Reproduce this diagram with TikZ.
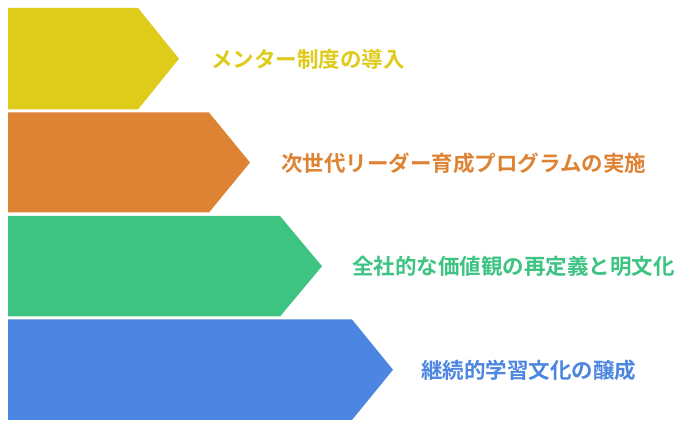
\documentclass[tikz,border=0pt]{standalone}
\usepackage{fontspec}
\newfontfamily\jpfont{Noto Sans CJK JP}[BoldFont={* Bold}]
\definecolor{cA}{HTML}{DFCB1A}
\definecolor{cB}{HTML}{DE8333}
\definecolor{cC}{HTML}{3DC482}
\definecolor{cD}{HTML}{4C86E0}
\tikzset{
  arrowshape/.style={fill=#1, draw=none},
  lbl/.style={anchor=west, inner sep=0pt, text=#1, font=\jpfont\bfseries\fontsize{21.5}{25}\selectfont}
}
\begin{document}
\begin{tikzpicture}[x=1pt,y=1pt]
\useasboundingbox[fill=white] (0,0) rectangle (696,436);
% arrows: top, bottom, shoulder, tip
\foreach \t/\b/\s/\p/\c in {8/109.5/138/179/cA, 112.5/212.5/209/250/cB, 216/316.5/280/322/cC, 319.5/420/352/393/cD}{
  \fill[arrowshape=\c] (8,436-\t) -- (\s,436-\t) -- (\p,{436-(\t+\b)/2}) -- (\s,436-\b) -- (8,436-\b) -- cycle;
}
\node[lbl=cA] (t1) at (211,{436-59.5}) {メンター制度の導入};
\node[lbl=cB] (t2) at (281,{436-163}) {次世代リーダー育成プログラムの実施};
\node[lbl=cC] (t3) at (352,{436-266.5}) {全社的な価値観の再定義と明文化};
\node[lbl=cD] (t4) at (421,{436-370.5}) {継続的学習文化の醸成};
\end{tikzpicture}
\end{document}
